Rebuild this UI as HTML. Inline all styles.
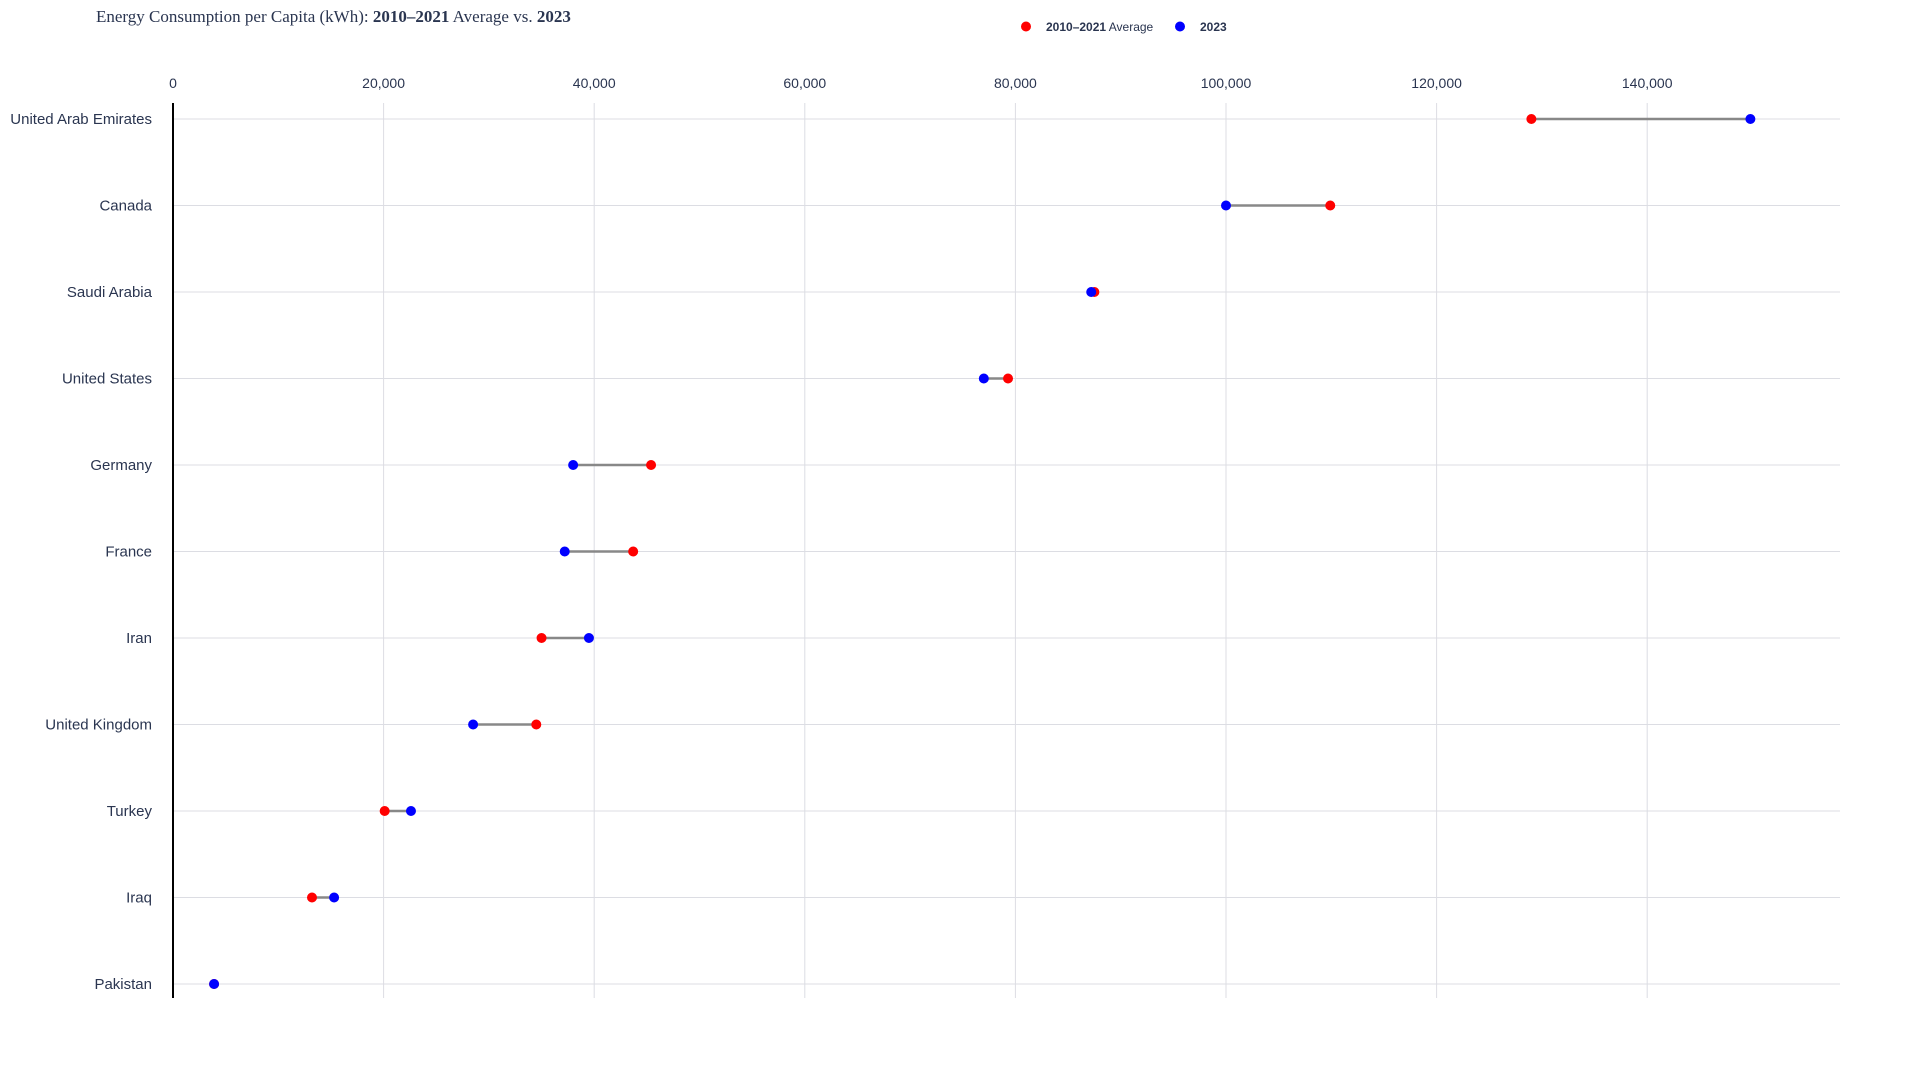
<!DOCTYPE html>
<html><head><meta charset="utf-8"><style>
html,body{margin:0;padding:0;background:#fff;width:1920px;height:1080px;overflow:hidden}
svg text{font-family:"Liberation Sans",sans-serif}
</style></head><body>
<svg id="chart" width="1920" height="1080">
<text x="96" y="22" font-size="17" fill="#2a3550" style="font-family:'Liberation Serif',serif">Energy Consumption per Capita (kWh): <tspan font-weight="bold">2010–2021</tspan> Average vs. <tspan font-weight="bold">2023</tspan></text>
<g>
<circle cx="1026" cy="26.5" r="5" fill="#ff0000"/>
<text x="1046" y="31" font-size="12" fill="#2a3550"><tspan font-weight="bold">2010–2021</tspan> Average</text>
<circle cx="1180" cy="26.5" r="5" fill="#0000ff"/>
<text x="1200" y="31" font-size="12" fill="#2a3550" font-weight="bold">2023</text>
</g>
<g id="grid"></g><g id="marks"></g>
</svg>
<script>
const countries=["United Arab Emirates","Canada","Saudi Arabia","United States","Germany","France","Iran","United Kingdom","Turkey","Iraq","Pakistan"];
const avgValues=[129000,109900,87500,79300,45400,43700,35000,34500,20100,13200,3900];
const values2023=[149800,100000,87200,77000,38000,37200,39500,28500,22600,15300,3900];
const ticks=[0,20000,40000,60000,80000,100000,120000,140000];
const tickLabels=["0","20,000","40,000","60,000","80,000","100,000","120,000","140,000"];
const NS="http://www.w3.org/2000/svg";
const X0=173,PX=210.6/20000,Y0=119,STEP=86.5,RIGHT=1840,TOP=103,BOTTOM=998;
const x=v=>X0+v*PX, y=i=>Y0+i*STEP;
function mk(tag,attrs,parent){const e=document.createElementNS(NS,tag);for(const k in attrs)e.setAttribute(k,attrs[k]);parent.appendChild(e);return e;}
const grid=document.getElementById('grid'),marks=document.getElementById('marks');
ticks.forEach((t,i)=>{
 if(t>0){const g=mk('line',{x1:x(t),x2:x(t),y1:TOP,y2:BOTTOM,stroke:'#dcdde3','stroke-width':1},grid);
 
 }
 const tl=mk('text',{x:x(t),y:88,'text-anchor':'middle','font-size':14,fill:'#2a3550'},grid);
 tl.textContent=tickLabels[i];
 
 
});
countries.forEach((c,i)=>{
 const gl=mk('line',{x1:X0,x2:RIGHT,y1:y(i),y2:y(i),stroke:'#dcdde3','stroke-width':1},grid);
 
 
 const lb=mk('text',{x:152,y:y(i)+5,'text-anchor':'end','font-size':15,fill:'#2a3550'},grid);
 lb.textContent=c;
 
 
 const cn=mk('line',{x1:x(avgValues[i]),x2:x(values2023[i]),y1:y(i),y2:y(i),stroke:'#888','stroke-width':2.5},marks);
 
 
 const a=mk('circle',{cx:x(avgValues[i]),cy:y(i),r:5,fill:'#ff0000'},marks);
 
 
 const b=mk('circle',{cx:x(values2023[i]),cy:y(i),r:5,fill:'#0000ff'},marks);
 
 
});
const ax=mk('line',{x1:X0,x2:X0,y1:TOP,y2:BOTTOM,stroke:'#000','stroke-width':2},grid);


</script>
</body></html>
